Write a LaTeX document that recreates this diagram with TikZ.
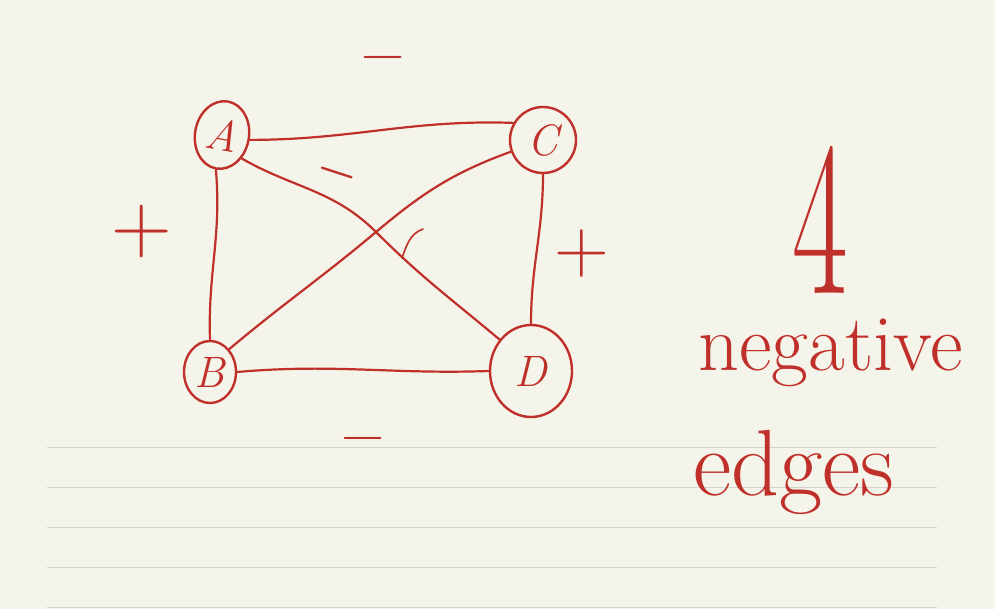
\documentclass[tikz,border=0pt]{standalone}
\usetikzlibrary{shapes.geometric}
\definecolor{paper}{HTML}{F5F4EA}
\definecolor{ink}{HTML}{C0302A}
\definecolor{rule}{HTML}{D3D3CF}
\begin{document}
\begin{tikzpicture}[x=1pt,y=-1pt,
  vtx/.style={draw=ink,line width=2.4pt,ellipse,inner sep=0pt,text=ink,font=\fontsize{44}{44}\selectfont\itshape},
  edge/.style={draw=ink,line width=2.2pt,line cap=round},
  sign/.style={text=ink,inner sep=0pt,font=\fontsize{76}{76}\selectfont},
  word/.style={text=ink,inner sep=0pt,anchor=base west}]
\fill[paper] (0,0) rectangle (995,609);
\useasboundingbox (0,0) rectangle (995,609);
% ruled lines
\foreach \yy in {447,487,527,567,607}
  \draw[rule,line width=1pt] (47,\yy) -- (937,\yy);
% vertices
\node[vtx,minimum width=54pt,minimum height=68pt,rotate=-10] (A) at (222,135) {A};
\node[vtx,minimum width=66pt,minimum height=66pt] (C) at (543,140) {C};
\node[vtx,minimum width=52pt,minimum height=62pt] (B) at (210,372) {B};
\node[vtx,minimum width=82pt,minimum height=92pt] (D) at (531,371) {D};
\coordinate (X) at (376,232);
% edges
\draw[edge] (A.east) to[out=0,in=178] (C.150);
\draw[edge] (A.south) to[out=-85,in=92] (B.north);
\draw[edge] (C.south) to[out=-90,in=90] (D.north);
\draw[edge] (D.west) to[out=182,in=5] (B.east);
\draw[edge] (A.-40) to[out=-30,in=135] (X) to[out=-45,in=140] (D.135);
\draw[edge] (B.50) to[out=40,in=-140] (X) to[out=40,in=-160] (C.200);
% marks on diagonals
\coordinate (m) at (402,258);
\draw[edge,line width=1.6pt] (m) to[out=70,in=200] (423,229);
% sign labels
\node[sign,font=\fontsize{60}{60}\selectfont] (ltop) at (383,64) {\textminus};
\node[sign,font=\fontsize{60}{60}\selectfont] (lbot) at (363,445) {\textminus};
\node[sign,font=\fontsize{84}{84}\selectfont] (lleft) at (142,232) {+};
\node[sign] (lright) at (582,254) {+};
\node[sign,rotate=-18,font=\fontsize{44}{44}\bfseries] (lmid) at (336,178) {\textminus};
% right-hand text
\node[word,font=\fontsize{220}{220}\selectfont,xscale=0.55] (n4) at (792,294) {4};
\node[word,font=\fontsize{80}{80}\selectfont] (nneg) at (698,370) {negative};
\node[word,font=\fontsize{94}{94}\selectfont] (nedg) at (693,495) {edges};
\end{tikzpicture}
\end{document}
